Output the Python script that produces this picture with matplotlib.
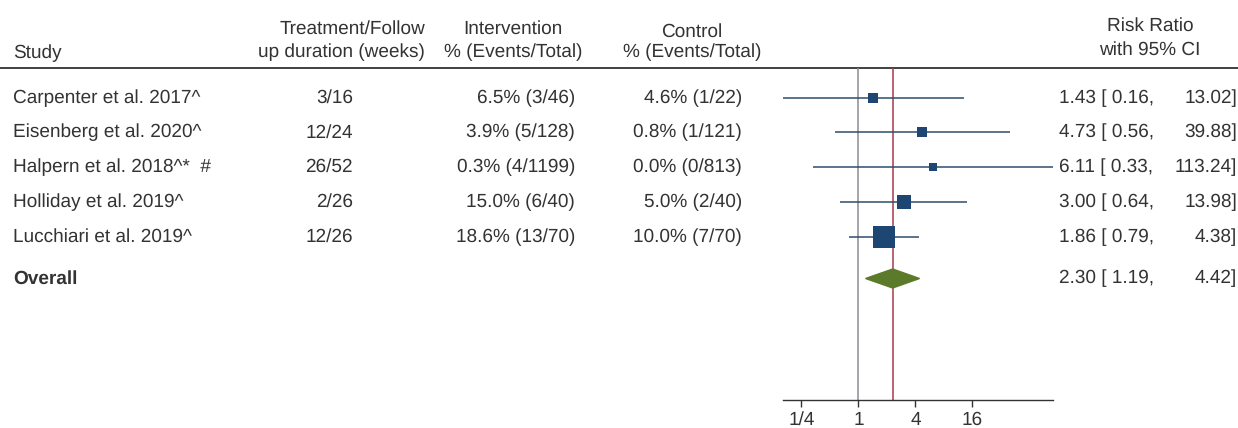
import numpy as np
import matplotlib
matplotlib.use('Agg')
import matplotlib.pyplot as plt
from matplotlib.patches import Polygon
from matplotlib.ticker import NullLocator

# data
studies = ['Carpenter et al. 2017^', 'Eisenberg et al. 2020^', 'Halpern et al. 2018^*  #',
           'Holliday et al. 2019^', 'Lucchiari et al. 2019^']
durations = ['3/16', '12/24', '26/52', '2/26', '12/26']
interv = ['6.5% (3/46)', '3.9% (5/128)', '0.3% (4/1199)', '15.0% (6/40)', '18.6% (13/70)']
control = ['4.6% (1/22)', '0.8% (1/121)', '0.0% (0/813)', '5.0% (2/40)', '10.0% (7/70)']
rr = [1.43, 4.73, 6.11, 3.00, 1.86]
lo = [0.16, 0.56, 0.33, 0.64, 0.79]
hi = [13.02, 39.88, 113.24, 13.98, 4.38]
weights = [9.0, 10.4, 6.7, 20.4, 53.5]   # estimated from square sizes
overall_rr, overall_lo, overall_hi = 2.30, 1.19, 4.42
xticks = [0.25, 1, 4, 16]
xticklabels = ['1/4', '1', '4', '16']

plt.rcParams['font.family'] = ['Liberation Sans', 'DejaVu Sans']
plt.rcParams['font.size'] = 14
plt.rcParams['text.hinting'] = 'no_hinting'
plt.rcParams['text.hinting_factor'] = 1
txt = '#333333'

W, H = 1238, 428
fig = plt.figure(figsize=(W / 100, H / 100), dpi=100)
tab = fig.add_axes([0, 0, 1, 1])
tab.set_xlim(0, W)
tab.set_ylim(H, 0)
tab.axis('off')

# row layout (pixel units)
row_y = [97.7 + 34.75 * i for i in range(len(studies))]
overall_y = 278.5
top, bottom = 68, 400

# header
tab.axhline(top, color='#333333', lw=1.3)
tab.text(13, 53, 'Study', ha='left', va='center', color=txt)
tab.text(425, 29, 'Treatment/Follow', ha='right', va='center', color=txt)
tab.text(425, 52, 'up duration (weeks)', ha='right', va='center', color=txt)
tab.text(513, 29, 'Intervention', ha='center', va='center', color=txt)
tab.text(513, 52, '% (Events/Total)', ha='center', va='center', color=txt)
tab.text(692, 32, 'Control', ha='center', va='center', color=txt)
tab.text(692, 52, '% (Events/Total)', ha='center', va='center', color=txt)
tab.text(1150, 26, 'Risk Ratio', ha='center', va='center', color=txt)
tab.text(1150, 50, 'with 95% CI', ha='center', va='center', color=txt)

for i, y in enumerate(row_y):
    tab.text(13, y, studies[i], ha='left', va='center', color=txt)
    tab.text(353, y, durations[i], ha='right', va='center', color=txt)
    tab.text(575, y, interv[i], ha='right', va='center', color=txt)
    tab.text(742, y, control[i], ha='right', va='center', color=txt)
    tab.text(1059, y, '%.2f [ %.2f,' % (rr[i], lo[i]), ha='left', va='center', color=txt)
    tab.text(1237, y, '%.2f]' % hi[i], ha='right', va='center', color=txt)

tab.text(13, overall_y, 'Overall', ha='left', va='center', color=txt, fontweight='bold')
tab.text(1059, overall_y, '%.2f [ %.2f,' % (overall_rr, overall_lo), ha='left', va='center', color=txt)
tab.text(1237, overall_y, '%.2f]' % overall_hi, ha='right', va='center', color=txt)

# forest panel
fax = fig.add_axes([783 / W, 1 - bottom / H, 270 / W, (bottom - top) / H])
fax.patch.set_alpha(0)
fax.set_xscale('log', base=2)
fax.set_xlim(min(lo), max(hi))
fax.set_ylim(bottom, top)
for s in ['top', 'left', 'right']:
    fax.spines[s].set_visible(False)
fax.spines['bottom'].set_color('#333333')
fax.spines['bottom'].set_linewidth(1.0)
fax.set_yticks([])
fax.set_xticks(xticks)
fax.set_xticklabels(xticklabels)
fax.xaxis.set_minor_locator(NullLocator())
fax.tick_params(axis='x', length=5, width=1, color='#333333', labelcolor=txt, labelsize=13.5, pad=13)
for lbl in fax.get_xticklabels():
    lbl.set_verticalalignment('baseline')

fax.axvline(1, color='#8e8a94', lw=1.1, zorder=1)
fax.axvline(overall_rr, color='#a8394a', lw=1.1, zorder=1)

wmax = max(weights)
for i, y in enumerate(row_y):
    fax.hlines(y, lo[i], hi[i], color='#2f4d6d', lw=1.1, zorder=2, clip_on=False)
    side = 22.7 * np.sqrt(weights[i] / wmax)
    fax.plot(rr[i], y, marker='s', ms=side * 0.72, color='#1d4673', mec='#1d4673', mew=0, zorder=3)

dh = 9.5
diamond = Polygon([(overall_lo, overall_y), (overall_rr, overall_y - dh),
                   (overall_hi, overall_y), (overall_rr, overall_y + dh)],
                  closed=True, facecolor='#5b7b2b', edgecolor='#5b7b2b', zorder=3)
fax.add_patch(diamond)

fig.savefig('out.png', dpi=100)
